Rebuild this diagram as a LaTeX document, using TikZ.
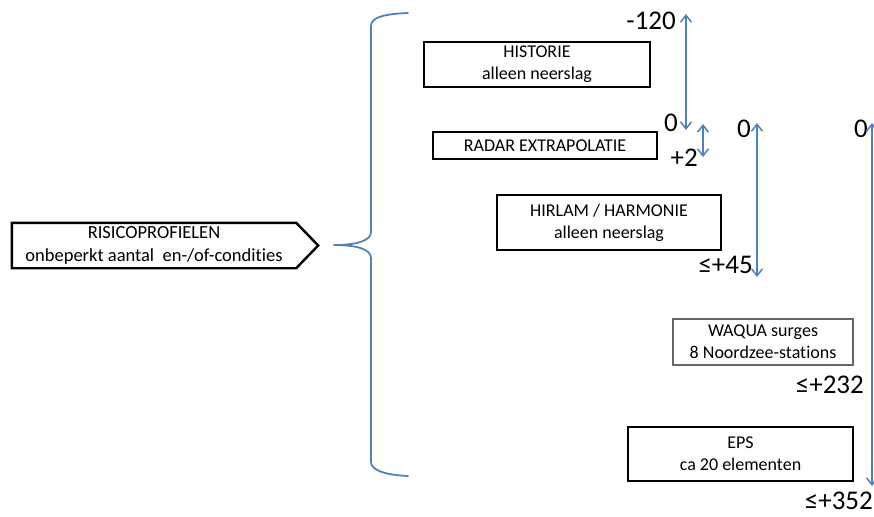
\documentclass[tikz,border=0pt]{standalone}
\usepackage{fontspec}
\setmainfont{Carlito}[Ligatures=NoCommon]
\usetikzlibrary{arrows.meta}

\definecolor{blauw}{RGB}{79,129,189}

\begin{document}
\begin{tikzpicture}[x=1pt, y=-1pt,
			kader/.style={draw=black, line width=2.4pt, align=center,
				inner sep=0pt, font=\fontsize{18}{22}\selectfont},
			tweeRegels/.style={execute at begin node={\rule{0pt}{19pt}}},
			kaderDun/.style={kader, draw=black!60, line width=1.2pt},
			getal/.style={inner sep=0pt, font=\fontsize{27}{27}\selectfont},
			pijl/.style={blauw, line width=1.5pt,
				{Straight Barb[length=7pt,width=11pt]}-{Straight Barb[length=7pt,width=11pt]}},
			accolade/.style={blauw, line width=1.8pt, line cap=round,
				line join=round}]
			\useasboundingbox (0,0) rectangle (874,516);
			\def\punt{22}
			
			%% risicoprofielen (pijlvorm)
			\node[tweeRegels, align=center, inner sep=0pt, minimum width=284, minimum height=45,
				font=\fontsize{18.5}{22.5}\selectfont] (risico) at (154,245.5)
				{RISICOPROFIELEN\\onbeperkt aantal\ \ en-/of-condities};
			\draw[line width=2.4pt, line join=miter] (risico.north west) -- (risico.north east)
				-- ([xshift=\punt]risico.east) -- (risico.south east)
				-- (risico.south west) -- cycle;
			
			%% accolade
			\draw[accolade] (408,13) .. controls (385,14) and (371,17) .. (371,26)
				-- (371,232) .. controls (371,241) and (356,245) .. (334,245)
				.. controls (356,245) and (371,249) .. (371,258)
				-- (371,462) .. controls (371,470) and (385,475) .. (408,476);
			
			%% bronnen
			\node[kader, tweeRegels, minimum width=226, minimum height=45] (historie) at (537,64.5)
				{HISTORIE\\alleen neerslag};
			\node[kader, minimum width=224, minimum height=27] (radar) at (545,145.5)
				{RADAR EXTRAPOLATIE};
			\node[kader, tweeRegels, minimum width=224, minimum height=55] (hirlam) at (609,222.5)
				{HIRLAM / HARMONIE\\alleen neerslag};
			\node[kaderDun, tweeRegels, minimum width=180, minimum height=46] (waqua) at (763,342)
				{WAQUA surges\\8 Noordzee-stations};
			\node[kader, tweeRegels, minimum width=225, minimum height=54] (eps) at (740.5,454)
				{EPS\\ca 20 elementen};
			
			%% tijdstappen
			\node[getal, anchor=base east] (tMin) at (676,30) {-120};
			\node[getal, anchor=base east] (tNulA) at (678,131) {0};
			\node[getal, anchor=base east] (tTwee) at (698,166) {+2};
			\node[getal, anchor=base east] (tNulB) at (751,137) {0};
			\node[getal, anchor=base east] (tHirlam) at (753,273) {≤+45};
			\node[getal, anchor=base east] (tNulC) at (868,137) {0};
			\node[getal, anchor=base east] (tWaqua) at (864,393) {≤+232};
			\node[getal, anchor=base east] (tEps) at (873,509) {≤+352};
			
			%% bereik per bron
			\coordinate (histBoven) at (686,14);
			\coordinate (histOnder) at (686,130);
			\coordinate (radarBoven) at (703,124);
			\coordinate (radarOnder) at (703,157);
			\coordinate (hirlBoven) at (757,123);
			\coordinate (hirlOnder) at (757,277);
			\coordinate (epsBoven) at (872,123);
			\coordinate (epsOnder) at (872,486);
			\draw[pijl] (histBoven) -- (histOnder);
			\draw[pijl] (radarBoven) -- (radarOnder);
			\draw[pijl] (hirlBoven) -- (hirlOnder);
			\draw[pijl] (epsBoven) -- (epsOnder);
		\end{tikzpicture}
\end{document}
